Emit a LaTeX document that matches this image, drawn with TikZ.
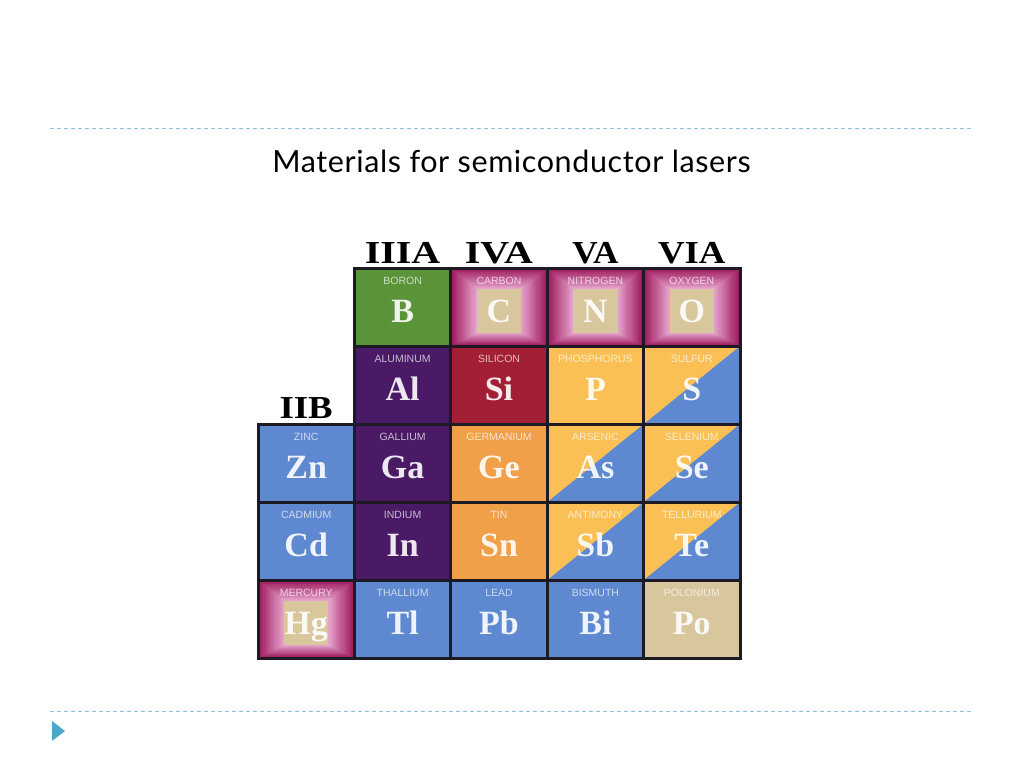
\documentclass[tikz,border=0pt]{standalone}
\usepackage{fontspec}
\setmainfont{Liberation Serif}
\newfontfamily\tagfont{Liberation Sans}
\newfontfamily\titlefont[LetterSpace=2]{Lato}
\usetikzlibrary{positioning}
\usetikzlibrary{matrix,calc}

\definecolor{grpgreen}{HTML}{5B9338}
\definecolor{grppurple}{HTML}{4A1A66}
\definecolor{grpred}{HTML}{A31F35}
\definecolor{grpyellow}{HTML}{FAC055}
\definecolor{grporange}{HTML}{F0A048}
\definecolor{grpblue}{HTML}{5E88CF}
\definecolor{grpbeige}{HTML}{D8C69C}
\definecolor{glowout}{HTML}{9C165A}
\definecolor{glowin}{HTML}{E8A8D0}
\definecolor{edgecol}{HTML}{1E1A24}
\definecolor{rulecol}{HTML}{8DC3D8}
\definecolor{bulletcol}{HTML}{4BA9C8}

\tikzset{
  cell/.style={draw=edgecol, line width=3pt, minimum width=96.4pt, minimum height=78pt,
    inner sep=0pt, outer sep=0pt, text height=31pt, text depth=0pt,
    font=\bfseries\fontsize{34}{34}\selectfont, text=white, text opacity=0.9},
  tag/.style={anchor=north, yshift=-9.5pt, inner sep=0pt,
    font=\tagfont\fontsize{10.5}{10.5}\selectfont, text=white, text opacity=0.7},
  head/.style={anchor=base, inner sep=0pt, font=\bfseries\fontsize{32}{32}\selectfont},
  split/.style={fill=grpblue, path picture={
    \fill[grpyellow] (path picture bounding box.south west) -- (path picture bounding box.north west)
      -- (path picture bounding box.north east) -- cycle;}},
  glow/.style={fill=glowout, path picture={
    \foreach \k in {0,...,24}{
      \pgfmathsetmacro\p{100*\k/24}
      \pgfmathsetmacro\dx{26*\k/24}
      \pgfmathsetmacro\dt{21*\k/24}
      \pgfmathsetmacro\db{13*\k/24}
      \fill[glowin!\p!glowout]
        ([xshift=\dx pt, yshift=-\dt pt]path picture bounding box.north west) rectangle
        ([xshift=-\dx pt, yshift=\db pt]path picture bounding box.south east);
    }
    \fill[grpbeige] ([xshift=26pt, yshift=-21pt]path picture bounding box.north west) rectangle
      ([xshift=-26pt, yshift=13pt]path picture bounding box.south east);}},
}

\begin{document}
\begin{tikzpicture}[x=1pt, y=-1pt]
  \useasboundingbox[fill=white] (0,0) rectangle (1024,768);

  % slide rules
  \draw[rulecol, line width=1pt, dash pattern=on 4pt off 3pt] (50,128) -- (972,128);
  \draw[rulecol, line width=1pt, dash pattern=on 4pt off 3pt] (50,711) -- (972,711);
  \fill[bulletcol] (52,721) -- (65,731) -- (52,741) -- cycle;

  \node[anchor=base, inner sep=0pt, font=\titlefont\fontsize{30.5}{30.5}\selectfont] (title) at (511.5,172)
    {Materials for semiconductor lasers};

  \matrix (grid) [anchor=north west, inner sep=0pt, outer sep=0pt, column sep=-3pt, row sep=-3pt] at (256.5,266.5)
    {
      & \node[cell, fill=grpgreen, label={[tag]north:BORON}] (b) {B};
      & \node[cell, glow, label={[tag]north:CARBON}] (c) {C};
      & \node[cell, glow, label={[tag]north:NITROGEN}] (n) {N};
      & \node[cell, glow, label={[tag]north:OXYGEN}] (o) {O}; \\
      & \node[cell, fill=grppurple, label={[tag]north:ALUMINUM}] (al) {Al};
      & \node[cell, fill=grpred, label={[tag]north:SILICON}] (si) {Si};
      & \node[cell, fill=grpyellow, label={[tag]north:PHOSPHORUS}] (p) {P};
      & \node[cell, split, label={[tag]north:SULFUR}] (s) {S}; \\
      \node[cell, fill=grpblue, label={[tag]north:ZINC}] (zn) {Zn};
      & \node[cell, fill=grppurple, label={[tag]north:GALLIUM}] (ga) {Ga};
      & \node[cell, fill=grporange, label={[tag]north:GERMANIUM}] (ge) {Ge};
      & \node[cell, split, label={[tag]north:ARSENIC}] (as) {As};
      & \node[cell, split, label={[tag]north:SELENIUM}] (se) {Se}; \\
      \node[cell, fill=grpblue, label={[tag]north:CADMIUM}] (cd) {Cd};
      & \node[cell, fill=grppurple, label={[tag]north:INDIUM}] (in) {In};
      & \node[cell, fill=grporange, label={[tag]north:TIN}] (sn) {Sn};
      & \node[cell, split, label={[tag]north:ANTIMONY}] (sb) {Sb};
      & \node[cell, split, label={[tag]north:TELLURIUM}] (te) {Te}; \\
      \node[cell, glow, label={[tag]north:MERCURY}] (hg) {Hg};
      & \node[cell, fill=grpblue, label={[tag]north:THALLIUM}] (tl) {Tl};
      & \node[cell, fill=grpblue, label={[tag]north:LEAD}] (pb) {Pb};
      & \node[cell, fill=grpblue, label={[tag]north:BISMUTH}] (bi) {Bi};
      & \node[cell, fill=grpbeige, label={[tag]north:POLONIUM}] (po) {Po}; \\
    };

  % group headings
  \node[head] (g3) at ([yshift=5pt]b.north) {\scalebox{1.25}[1]{IIIA}};
  \node[head] (g4) at ([yshift=5pt]c.north) {\scalebox{1.25}[1]{IVA}};
  \node[head] (g5) at ([yshift=5pt]n.north) {\scalebox{1.1}[1]{VA}};
  \node[head] (g6) at ([yshift=5pt]o.north) {\scalebox{1.15}[1]{VIA}};
  \node[head] (g2) at ([yshift=6pt]zn.north) {\scalebox{1.15}[1]{IIB}};
\end{tikzpicture}
\end{document}
